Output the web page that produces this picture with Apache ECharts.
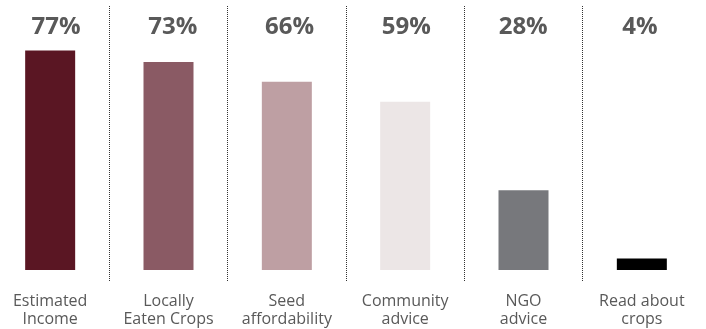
<!DOCTYPE html>
<html>
<head>
<meta charset="utf-8">
<script src="https://cdn.jsdelivr.net/npm/echarts@6/dist/echarts.min.js"></script>
<style>
  html, body { margin: 0; padding: 0; background: #ffffff; }
  #chart { width: 706px; height: 329px; }
</style>
</head>
<body>
<div id="chart"></div>
<script>
// Reasons given for choosing crops (share of respondents, %)
const categories = [
  'Estimated\nIncome',
  'Locally\nEaten Crops',
  'Seed\naffordability',
  'Community\nadvice',
  'NGO\nadvice',
  'Read about\ncrops'
];
const shares = [77, 73, 66, 59, 28, 4];
const barColors = ['#5A1623', '#8A5A64', '#BE9FA3', '#ECE6E6', '#77787C', '#000000'];

const chart = echarts.init(document.getElementById('chart'));

chart.setOption({
  animation: false,
  backgroundColor: '#ffffff',
  grid: [
    // main plotting area: bars, dotted separators, category names
    { left: -9, width: 710, top: 6, bottom: 47, outerBoundsMode: 'none' },
    // row of percentage headings above the bars
    { left: -2.4, width: 700.8, top: 27, height: 10, outerBoundsMode: 'none' }
  ],
  xAxis: [
    {
      type: 'category',
      gridIndex: 0,
      data: categories,
      axisLine: { show: false, onZero: false },
      axisTick: { show: false },
      axisLabel: {
        margin: 10,
        color: '#595959',
        fontFamily: 'Open Sans',
        fontSize: 16,
        lineHeight: 18
      },
      splitLine: {
        show: true,
        showMinLine: false,
        showMaxLine: false,
        lineStyle: { color: '#333333', type: [1, 1], width: 1 }
      }
    },
    {
      type: 'category',
      gridIndex: 1,
      position: 'top',
      data: shares.map(v => v + '%'),
      axisLine: { show: false },
      axisTick: { show: false },
      splitLine: { show: false },
      axisLabel: {
        margin: 0,
        verticalAlign: 'middle',
        color: '#595959',
        fontFamily: 'Open Sans',
        fontWeight: 'bold',
        fontSize: 24
      }
    }
  ],
  yAxis: [
    { type: 'value', gridIndex: 0, min: -4.2, max: 92.6, show: false, splitLine: { show: false } },
    { type: 'value', gridIndex: 1, show: false, splitLine: { show: false } }
  ],
  series: [
    {
      type: 'bar',
      xAxisIndex: 0,
      yAxisIndex: 0,
      barWidth: 50,
      data: shares.map((v, i) => ({ value: v, itemStyle: { color: barColors[i] } }))
    }
  ]
});
</script>
</body>
</html>
